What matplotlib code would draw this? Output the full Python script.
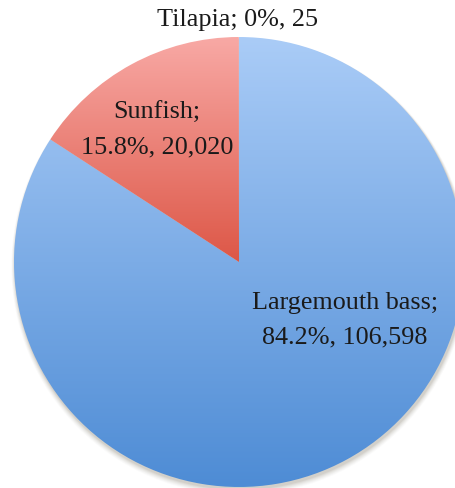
import numpy as np
import matplotlib
matplotlib.use('Agg')
import matplotlib.pyplot as plt
from matplotlib.colors import LinearSegmentedColormap
from matplotlib.patches import Circle

# fish counts
species = ['Largemouth bass', 'Sunfish', 'Tilapia']
counts = [106598, 20020, 25]
pct_labels = ['84.2%', '15.8%', '0%']
count_labels = ['106,598', '20,020', '25']

# gradient colours (top -> bottom of each wedge)
grad_colors = [('#AACCF7', '#4E8CD5'), ('#F8A9A5', '#DD5747'), ('#F8A9A5', '#DD5747')]

plt.rcParams['font.family'] = ['Liberation Serif', 'DejaVu Serif']

fig = plt.figure(figsize=(4.56, 4.89), dpi=100)
ax = fig.add_axes([0, 0, 1, 1])

cx, cy, r = 239, 263, 225

# soft shadow
for k, a in zip(range(6, 0, -1), [0.03, 0.04, 0.05, 0.06, 0.08, 0.10]):
    ax.add_patch(Circle((cx + 1, cy + 2 + k * 0.4), r + k * 0.6, color='#7a7060',
                        alpha=a, lw=0, zorder=1))

# y axis is flipped, so counterclock=True runs clockwise on screen
wedges, _ = ax.pie(counts, startangle=-90, counterclock=True, center=(cx, cy),
                   radius=r, frame=True,
                   wedgeprops=dict(linewidth=0, facecolor='none'))
ax.set_xlim(0, 456)
ax.set_ylim(489, 0)
ax.set_aspect('equal')
ax.axis('off')

grad = np.linspace(0, 1, 256).reshape(-1, 1)
for i, (w, (c0, c1)) in enumerate(zip(wedges, grad_colors)):
    cmap = LinearSegmentedColormap.from_list('g', [c0, c1])
    if i == 0:
        ext = (cx - r, cx + r, cy + r, cy - r)
    else:
        ext = (cx - r, cx + r, cy, cy - r)
    im = ax.imshow(grad, cmap=cmap, extent=ext, aspect='auto', zorder=2,
                   interpolation='bilinear')
    im.set_clip_path(w)
ax.set_xlim(0, 456)
ax.set_ylim(489, 0)

fs = 18.8
tc = '#1a1a1a'
ax.text(345, 303, species[0] + ';', ha='center', va='center', fontsize=fs, color=tc, zorder=5)
ax.text(345, 337, pct_labels[0] + ', ' + count_labels[0], ha='center', va='center', fontsize=fs, color=tc, zorder=5)
ax.text(157, 113, species[1] + ';', ha='center', va='center', fontsize=fs, color=tc, zorder=5)
ax.text(157, 147, pct_labels[1] + ', ' + count_labels[1], ha='center', va='center', fontsize=fs, color=tc, zorder=5)
ax.text(238, 20, species[2] + '; ' + pct_labels[2] + ', ' + count_labels[2], ha='center', va='center', fontsize=fs, color=tc, zorder=5)

fig.savefig('out.png', dpi=100)
